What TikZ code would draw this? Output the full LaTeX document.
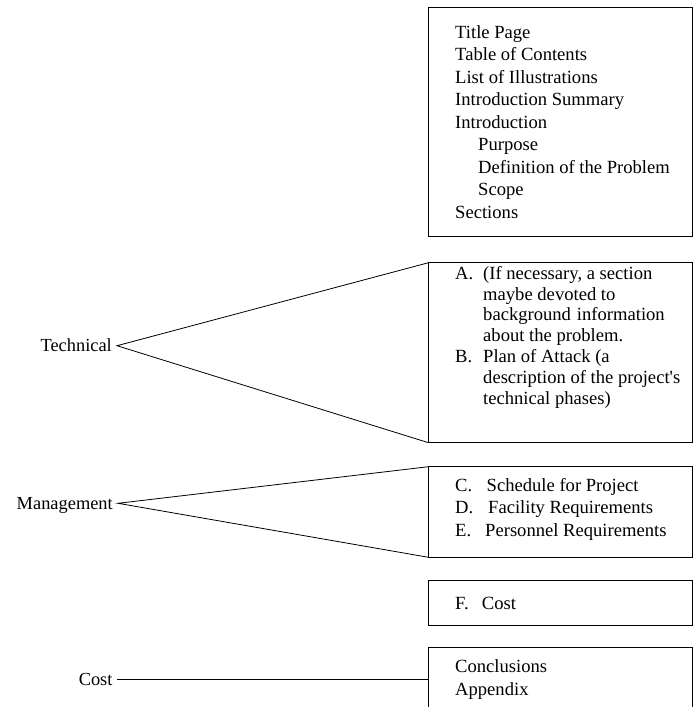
\documentclass[tikz,border=0pt]{standalone}
\usepackage{fontspec}
\setmainfont{Liberation Serif}
\begin{document}
\begin{tikzpicture}[x=1pt,y=-1pt,
  sectionbox/.style={draw, line width=0.8pt, minimum width=263.5pt,
    anchor=north west, inner sep=0pt, outer sep=0pt},
  partlabel/.style={anchor=east, inner xsep=5pt, inner ysep=0pt,
    text height=12pt, text depth=0pt, font=\fontsize{18.4}{22.5}\selectfont},
  entries/.style={anchor=base west, inner sep=0pt},
  link/.style={line width=0.8pt}]
  \useasboundingbox (0,0) rectangle (693,707);
  \clip (0,0) rectangle (693,707);

  % boxes of the report outline
  \node[sectionbox, minimum height=229pt] (front) at (428.5,7) {};
  \node[sectionbox, minimum height=180pt] (techbox) at (428.5,262.7) {};
  \node[sectionbox, minimum height=90.6pt] (mgmtbox) at (428.5,466.7) {};
  \node[sectionbox, minimum height=45pt] (costbox) at (428.5,580.7) {};
  \node[sectionbox, minimum height=80pt] (endbox) at (428.5,647.3) {};

  % contents of each box
  \node[entries, font=\fontsize{18.6}{22.5}\selectfont] (fronttext) at (455,38.3)
    {\begin{tabular}[t]{@{}l@{}}
      Title Page\\
      Table of Contents\\
      List of Illustrations\\
      Introduction Summary\\
      Introduction\\
      \hspace*{23pt}Purpose\\
      \hspace*{23pt}Definition of the Problem\\
      \hspace*{23pt}Scope\\
      Sections
    \end{tabular}};
  \node[entries, font=\fontsize{18.6}{20.8}\selectfont] (techtext) at (455,279.3)
    {\begin{tabular}[t]{@{}l@{}}
      \makebox[28pt][l]{A.}(If necessary, a section\\
      \hspace*{28pt}maybe devoted to\\
      \hspace*{28pt}background\hspace{0.32em}information\\
      \hspace*{28pt}about the problem.\\
      \makebox[28pt][l]{B.}Plan of Attack (a\\
      \hspace*{28pt}description of the project\textquotesingle s\\
      \hspace*{28pt}technical phases)
    \end{tabular}};
  \node[entries, font=\fontsize{18.6}{22.2}\selectfont] (mgmttext) at (455,491.7)
    {\begin{tabular}[t]{@{}l@{}}
      \makebox[31.5pt][l]{C.}Schedule for Project\\
      \makebox[33pt][l]{D.}Facility Requirements\\
      \makebox[30pt][l]{E.}Personnel Requirements
    \end{tabular}};
  \node[entries, font=\fontsize{18.6}{22.5}\selectfont] (costtext) at (455,609)
    {\makebox[26.7pt][l]{F.}Cost};
  \node[entries, font=\fontsize{18.6}{23}\selectfont] (endtext) at (455,672)
    {\begin{tabular}[t]{@{}l@{}}
      Conclusions\\
      Appendix
    \end{tabular}};

  % part labels on the left
  \node[partlabel] (tech) at (117,345.7) {Technical};
  \node[partlabel] (mgmt) at (118,503.3) {Management};
  \node[partlabel, inner xsep=4pt] (cost) at (116.7,679.3) {Cost};

  % connectors from the labels to the boxes
  \draw[link] (techbox.north west) -- (tech.east) -- (techbox.south west);
  \draw[link] (mgmtbox.north west) -- (mgmt.east) -- (mgmtbox.south west);
  \draw[link] (cost.east) -- (cost.east -| endbox.west);
\end{tikzpicture}
\end{document}
